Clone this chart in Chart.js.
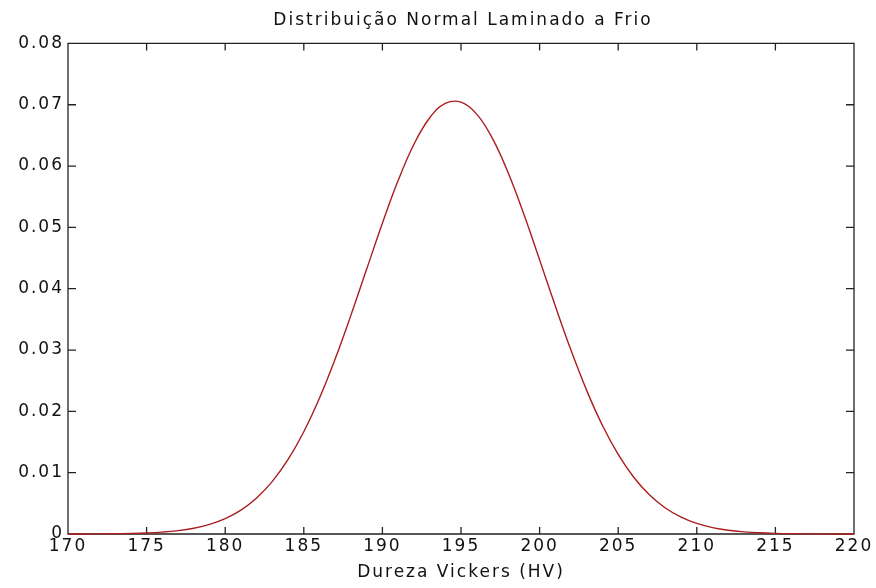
<!DOCTYPE html>
<html>
<head>
<meta charset="utf-8">
<script src="https://cdn.jsdelivr.net/npm/chart.js@4.4.1/dist/chart.umd.min.js"></script>
<style>
  html, body { margin: 0; padding: 0; background: #fff; }
  #wrap { width: 876px; height: 588px; }
</style>
</head>
<body>
<div id="wrap"><canvas id="chart"></canvas></div>
<script>
// values
const hardness = [170, 171, 172, 173, 174, 175, 176, 177, 178, 179,
                  180, 181, 182, 183, 184, 185, 186, 187, 188, 189,
                  190, 191, 192, 193, 194, 195, 196, 197, 198, 199,
                  200, 201, 202, 203, 204, 205, 206, 207, 208, 209,
                  210, 211, 212, 213, 214, 215, 216, 217, 218, 219, 220];
const density = [0.000005, 0.000012, 0.000024, 0.000047, 0.000092, 0.000172, 0.000313, 0.000552, 0.000943, 0.00156,
                 0.00251, 0.00390, 0.00588, 0.00858, 0.01215, 0.01667, 0.02217, 0.02857, 0.03569, 0.04320,
                 0.05068, 0.05763, 0.06351, 0.06783, 0.07020, 0.07042, 0.06847, 0.06451, 0.05891, 0.05213,
                 0.04470, 0.03717, 0.02995, 0.02338, 0.01769, 0.01298, 0.00922, 0.00635, 0.00424, 0.00274,
                 0.00172, 0.00105, 0.000616, 0.000351, 0.000195, 0.000104, 0.000054, 0.000027, 0.000013, 0.000006, 0.000003];
const xTicks = [170, 175, 180, 185, 190, 195, 200, 205, 210, 215, 220];
const yTicks = [0, 0.01, 0.02, 0.03, 0.04, 0.05, 0.06, 0.07, 0.08];

const FONT = '"DejaVu Sans", Verdana, sans-serif';

let points = []
for (let i = 0; i < hardness.length; i++)
    points.push({x: hardness[i], y: density[i]})

// MATLAB style text is wide, so space the letters a bit
const spacing = {
    id: 'spacing',
    beforeUpdate(chart) { chart.ctx.letterSpacing = '2px' },
    beforeDraw(chart) { chart.ctx.letterSpacing = '2px' },
    afterLayout(chart) {
        // centre the title over the axes, not the whole canvas
        const t = chart.titleBlock;
        if (t) {
            t.left = chart.chartArea.left + 2;
            t.right = chart.chartArea.right + 2;
            t.width = t.right - t.left;
        }
    }
};

// box round the axes with inward ticks on all four sides
const boxTicks = {
    id: 'boxTicks',
    beforeDatasetsDraw(chart) {
        const ctx = chart.ctx;
        const a = chart.chartArea;
        const sx = chart.scales.x, sy = chart.scales.y;
        ctx.save();
        ctx.strokeStyle = '#222';
        ctx.lineWidth = 1.3;
        ctx.beginPath();
        ctx.rect(a.left, a.top, a.right - a.left, a.bottom - a.top);
        xTicks.forEach(v => {
            const px = sx.getPixelForValue(v);
            ctx.moveTo(px, a.bottom); ctx.lineTo(px, a.bottom - 7);
            ctx.moveTo(px, a.top); ctx.lineTo(px, a.top + 7);
        });
        yTicks.forEach(v => {
            const py = sy.getPixelForValue(v);
            ctx.moveTo(a.left, py); ctx.lineTo(a.left + 8, py);
            ctx.moveTo(a.right, py); ctx.lineTo(a.right - 8, py);
        });
        ctx.stroke();
        ctx.restore();
    }
};

const config = {
    type: 'line',
    data: {
        datasets: [{
            data: points,
            borderColor: 'rgb(170,30,30)',
            borderWidth: 1.4,
            pointRadius: 0,
            fill: false,
            tension: 0.4,
            clip: 2
        }]
    },
    options: {
        responsive: true,
        maintainAspectRatio: false,
        animation: false,
        layout: { padding: { left: 0, right: 22, top: 0, bottom: 0 } },
        plugins: {
            legend: { display: false },
            tooltip: { enabled: false },
            title: {
                display: true,
                text: 'Distribuição Normal Laminado a Frio',
                color: '#111',
                font: { family: FONT, size: 17, weight: 'normal' },
                padding: { top: 10, bottom: 13 }
            }
        },
        scales: {
            x: {
                type: 'linear',
                min: 170,
                max: 220,
                afterBuildTicks: s => { s.ticks = xTicks.map(v => ({value: v})) },
                afterFit: s => { s.height = 54 },
                grid: { display: false, drawTicks: false },
                border: { display: false },
                ticks: {
                    color: '#111',
                    padding: 2,
                    maxRotation: 0,
                    font: { family: FONT, size: 17 }
                },
                title: {
                    display: true,
                    text: 'Dureza Vickers (HV)',
                    color: '#111',
                    font: { family: FONT, size: 17 },
                    padding: { top: 5, bottom: 5 }
                }
            },
            y: {
                min: 0,
                max: 0.08,
                afterBuildTicks: s => { s.ticks = yTicks.map(v => ({value: v})) },
                afterFit: s => { s.width = 68 },
                grid: { display: false, drawTicks: false },
                border: { display: false },
                ticks: {
                    color: '#111',
                    padding: 4,
                    font: { family: FONT, size: 17 },
                    callback: v => v === 0 ? '0' : v.toFixed(2)
                }
            }
        }
    },
    plugins: [spacing, boxTicks]
};

new Chart(document.getElementById('chart').getContext('2d'), config);
</script>
</body>
</html>
